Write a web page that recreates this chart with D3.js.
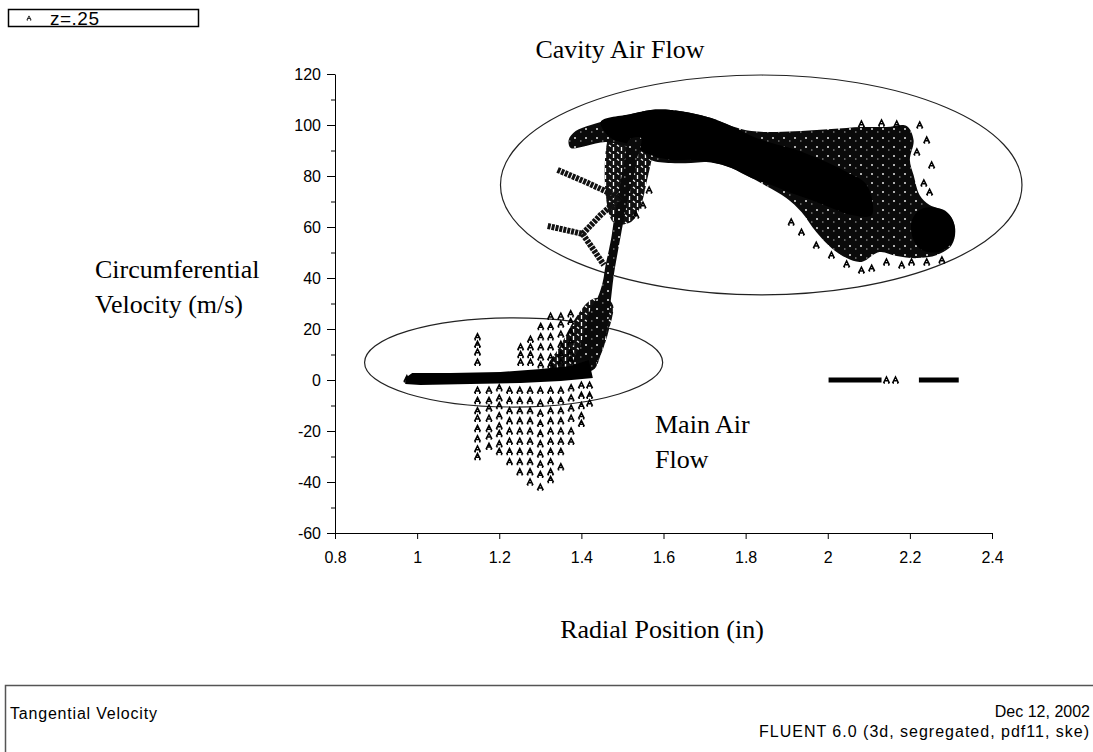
<!DOCTYPE html>
<meta charset="utf-8">
<script src="https://cdn.jsdelivr.net/npm/d3@7"></script>
<style>
  body { margin: 0; background: #fff; }
  .tick text { font-family: "Liberation Sans", Arial, sans-serif; font-size: 16px; }
  .serif { font-family: "Liberation Serif", "Times New Roman", serif; font-size: 26px; fill: #000; }
  .foot { font-family: "Liberation Sans", Arial, sans-serif; font-size: 16px; fill: #000; }
</style>
<div id="chart"></div>
<script>
// axis ticks
var xTicks = [0.8, 1, 1.2, 1.4, 1.6, 1.8, 2, 2.2, 2.4];
var yTicks = [-60, -40, -20, 0, 20, 40, 60, 80, 100, 120];
var yMinor = [-50, -30, -10, 10, 30, 50, 70, 90, 110];

// dense part of the main flow near v = 0 (radial position, velocity)
var bandPoly = [[0.971,0.8],[0.988,2.7],[1.081,2.7],[1.203,3.1],[1.301,4.3],[1.374,5.5],[1.418,7.8],
  [1.428,0.8],[1.350,-0.4],[1.252,-1.2],[1.130,-1.6],[1.008,-2.0],[0.971,-1.6]];

// cluster where the flow starts to rise
var riserPoly = [[1.320,4.7],[1.350,13.7],[1.386,24.3],[1.423,31.4],[1.459,32.2],[1.477,29.4],
  [1.467,19.6],[1.447,9.8],[1.428,3.9]];

// steep rise between the two flows
var trunkPoly = [[1.379,5.5],[1.398,13.7],[1.411,21.6],[1.423,28.2],[1.440,32.5],[1.452,38.4],[1.459,45.1],
  [1.467,51.0],[1.474,56.9],[1.481,64.7],[1.489,71.4],[1.496,78.4],[1.506,86.3],[1.516,94.1],
  [1.545,94.9],[1.535,86.3],[1.525,78.4],[1.513,70.6],[1.503,62.7],[1.494,54.9],[1.486,47.8],
  [1.479,41.2],[1.474,34.5],[1.469,27.5],[1.462,19.6],[1.452,12.5],[1.438,7.1],[1.428,3.9]];

// hatched region right of the trunk
var hatchPoly = [[1.477,99.2],[1.569,100.0],[1.574,90.2],[1.560,78.4],[1.545,68.6],[1.521,62.0],[1.477,62.0]];

// cavity flow: outer (speckled) and core (solid)
var cavityOuter = [[1.369,94.1],[1.386,97.6],[1.423,100.0],[1.472,102.4],[1.521,104.3],[1.569,105.9],
  [1.618,105.9],[1.667,104.7],[1.716,102.7],[1.765,99.6],[1.814,97.6],[1.875,97.3],[1.936,97.6],
  [2.009,98.4],[2.082,99.2],[2.143,99.2],[2.192,99.6],[2.209,94.1],[2.200,86.3],[2.209,80.4],
  [2.224,72.5],[2.248,68.6],[2.290,65.9],[2.310,59.6],[2.302,52.9],[2.266,49.0],[2.217,47.8],
  [2.168,48.6],[2.126,50.2],[2.082,46.3],[2.046,47.8],[2.009,51.8],[1.972,58.0],[1.936,65.9],
  [1.899,71.4],[1.850,76.1],[1.801,80.4],[1.753,83.9],[1.704,85.5],[1.667,85.1],[1.618,85.1],
  [1.569,86.3],[1.545,90.2],[1.508,91.8],[1.459,93.3],[1.411,91.8],[1.374,91.0]];

var cavityCore = [[1.447,101.2],[1.521,104.3],[1.569,105.9],[1.618,105.9],[1.667,104.7],[1.716,102.7],
  [1.765,99.6],[1.814,95.7],[1.863,92.9],[1.924,90.2],[1.985,86.3],[2.046,81.6],[2.095,76.5],
  [2.107,64.7],[2.058,64.7],[2.009,67.5],[1.960,70.6],[1.911,73.3],[1.863,76.5],[1.814,79.2],
  [1.765,83.1],[1.716,85.5],[1.667,86.3],[1.618,86.3],[1.569,88.2],[1.521,92.2],[1.472,94.9]];

var blobPoly = [[2.224,66.7],[2.266,67.5],[2.297,64.7],[2.310,59.6],[2.302,53.7],[2.270,50.2],
  [2.229,51.0],[2.209,54.9],[2.204,62.0]];

// streak lines branching off the trunk
var branchB = [[1.342,82.4],[1.411,77.6],[1.489,71.8]];
var branchC = [[1.318,60.4],[1.362,58.8],[1.403,57.3],[1.447,64.7],[1.496,71.8]];
var branchD = [[1.403,57.3],[1.430,51.0],[1.455,45.1]];

// columns of single markers below the band
var lowColR = [1.147, 1.175, 1.200, 1.225, 1.250, 1.275, 1.300, 1.325, 1.350, 1.375, 1.400, 1.420];
var lowColV = [
  [17,14,11,7,-4,-8,-12,-15,-19,-23,-27,-30],
  [-4,-8,-11,-15,-19,-22,-26],
  [-3,-7,-10,-14,-18,-21,-25,-28],
  [-4,-8,-12,-16,-20,-24,-28,-32],
  [-4,-8,-12,-16,-20,-24,-28,-32,-36],
  [-4,-8,-12,-16,-20,-24,-28,-32,-36,-40],
  [-4,-9,-13,-17,-21,-25,-29,-33,-37,-42],
  [-4,-8,-12,-16,-20,-24,-28,-32,-36,-39],
  [-4,-8,-12,-16,-20,-24,-28,-34],
  [-3,-7,-11,-15,-20,-24],
  [-2,-6,-10,-14,-17],
  [-2,-6,-9]
];

// columns of markers above the band
var upColR = [1.252, 1.276, 1.301, 1.325, 1.350, 1.374];
var upColV = [[7,10,13],[7,10,13,16],[6,9,13,17,21],[6,9,13,17,21,25],[7,10,14,18,22,25],[8,11,15,19,23,26]];

// scattered single markers
var scatterPts = [[2.224,100],[2.241,94.1],[2.217,89.4],[2.253,84.3],[2.234,77.3],[2.248,73.7],
  [2.107,43.9],[2.143,46.3],[2.180,45.1],[2.204,46.3],[2.082,43.1],[2.046,45.5],[2.009,49.0],
  [1.972,52.9],[1.936,58.0],[1.911,62.0],[2.278,47.1],[2.241,46.3],
  [1.565,74.5],[1.550,68.6],[1.533,64.7],[2.131,100.8],[2.168,100.4],[2.082,100.4],
  [2.143,0],[2.165,0],[0.975,0.5]];

// solid runs of markers on v = 0
var zeroRuns = [[2.002,2.131],[2.222,2.319]];

// annotation ellipses: [r, v] centres and [dr, dv] radii
var ellCentre = [[1.838,76.5],[1.235,6.9]];
var ellRadius = [[0.635,43.1],[0.363,17.5]];

var W = 1093, H = 752;
var svg = d3.select("#chart").append("svg").attr("width", W).attr("height", H);

// textures for the crowded marker areas
var defs = svg.append("defs");
var speck = defs.append("pattern").attr("id", "speck")
    .attr("patternUnits", "userSpaceOnUse").attr("width", 11).attr("height", 9);
speck.append("rect").attr("width", 11).attr("height", 9).attr("fill", "#0a0a0a");
speck.append("path").attr("d", "M2,2l2,2M4,2l-2,2M8,6h1.5")
    .attr("stroke", "#fff").attr("stroke-width", 0.8).attr("opacity", 0.85);
var hatch = defs.append("pattern").attr("id", "hatch")
    .attr("patternUnits", "userSpaceOnUse").attr("width", 8).attr("height", 7);
hatch.append("rect").attr("width", 8).attr("height", 7).attr("fill", "#111");
hatch.append("path").attr("d", "M5.5,0v4M1,5l2,1.5")
    .attr("stroke", "#fff").attr("stroke-width", 1.3);

var x = d3.scaleLinear().domain([0.8, 2.4]).range([335, 992]);
var y = d3.scaleLinear().domain([-60, 120]).range([533, 74]);

// axes
svg.append("g").attr("transform", "translate(335,0)")
    .call(d3.axisLeft(y).tickValues(yTicks).tickSize(8).tickPadding(6).tickSizeOuter(0)
      .tickFormat(function(d) { return String(d); }))
    .call(function(g) { g.selectAll("path,line").attr("stroke", "#000"); });
svg.append("g").attr("transform", "translate(335,0)")
    .call(d3.axisLeft(y).tickValues(yMinor).tickSize(4).tickFormat("").tickSizeOuter(0))
    .call(function(g) { g.select(".domain").remove(); });
svg.append("g").attr("transform", "translate(0,533)")
    .call(d3.axisBottom(x).tickValues(xTicks).tickSize(6).tickPadding(13).tickSizeOuter(0)
      .tickFormat(function(d) { return d === 1 || d === 2 ? d : d3.format(".1f")(d); }))
    .call(function(g) { g.selectAll("path,line").attr("stroke", "#000"); });

// ellipses
svg.selectAll("ellipse").data(ellCentre).enter().append("ellipse")
    .attr("cx", function(d) { return x(d[0]); })
    .attr("cy", function(d) { return y(d[1]); })
    .attr("rx", function(d, i) { return x(0.8 + ellRadius[i][0]) - x(0.8); })
    .attr("ry", function(d, i) { return y(0) - y(ellRadius[i][1]); })
    .attr("fill", "none").attr("stroke", "#222").attr("stroke-width", 1.2);

var poly = d3.line().x(function(d) { return x(d[0]); }).y(function(d) { return y(d[1]); })
    .curve(d3.curveCatmullRomClosed);
var path = d3.line().x(function(d) { return x(d[0]); }).y(function(d) { return y(d[1]); });

svg.append("path").attr("d", poly(hatchPoly)).attr("fill", "url(#hatch)");
svg.append("path").attr("d", poly(cavityOuter)).attr("fill", "url(#speck)");
svg.append("path").attr("d", poly(cavityCore)).attr("fill", "#000");
svg.append("path").attr("d", poly(blobPoly)).attr("fill", "#000");
svg.append("path").attr("d", poly(riserPoly)).attr("fill", "url(#hatch)");
svg.append("path").attr("d", poly(trunkPoly)).attr("fill", "url(#speck)");
svg.append("path").attr("d", path(bandPoly) + "Z").attr("fill", "#000");

[branchB, branchC, branchD].forEach(function(b) {
  svg.append("path").attr("d", path(b)).attr("fill", "none")
     .attr("stroke", "#111").attr("stroke-width", 6).attr("stroke-dasharray", "3,1");
});

svg.selectAll(".zrun").data(zeroRuns).enter().append("line")
    .attr("x1", function(d) { return x(d[0]); }).attr("x2", function(d) { return x(d[1]); })
    .attr("y1", y(0)).attr("y2", y(0))
    .attr("stroke", "#000").attr("stroke-width", 5);

// single markers
var pts = [];
lowColR.forEach(function(r, i) { lowColV[i].forEach(function(v) { pts.push([r, v]); }); });
upColR.forEach(function(r, i) { upColV[i].forEach(function(v) { pts.push([r, v]); }); });
scatterPts.forEach(function(p) { pts.push(p); });

var glyph = "M-3,3L0,-3L3,3M-2,0.8H2M-3,3H-1.5M1.5,3H3";
svg.append("g").selectAll("path").data(pts).enter().append("path")
    .attr("transform", function(d) { return "translate(" + x(d[0]) + "," + y(d[1]) + ")"; })
    .attr("d", glyph).attr("fill", "none").attr("stroke", "#000").attr("stroke-width", 1.5);

// texts
svg.append("text").attr("class", "serif").attr("x", 620).attr("y", 58)
    .attr("text-anchor", "middle").text("Cavity Air Flow");
svg.append("text").attr("class", "serif").attr("x", 95).attr("y", 278).text("Circumferential");
svg.append("text").attr("class", "serif").attr("x", 95).attr("y", 313).text("Velocity (m/s)");
svg.append("text").attr("class", "serif").attr("x", 655).attr("y", 433).text("Main Air");
svg.append("text").attr("class", "serif").attr("x", 655).attr("y", 468).text("Flow");
svg.append("text").attr("class", "serif").attr("x", 662).attr("y", 638)
    .attr("text-anchor", "middle").text("Radial Position (in)");

// legend box
svg.append("rect").attr("x", 8.5).attr("y", 9.5).attr("width", 190).attr("height", 17)
    .attr("fill", "#fff").attr("stroke", "#000").attr("stroke-width", 1.5);
svg.append("path").attr("transform", "translate(29,18) scale(0.7)").attr("d", glyph)
    .attr("fill", "none").attr("stroke", "#000").attr("stroke-width", 1.2);
svg.append("text").attr("class", "foot").attr("x", 50).attr("y", 25)
    .style("font-size", "19px").style("letter-spacing", "0.5px").text("z=.25");

// footer box
svg.append("path").attr("d", "M5.5,752V685.5H1093").attr("fill", "none")
    .attr("stroke", "#555").attr("stroke-width", 1.5);
svg.append("text").attr("class", "foot").attr("x", 10).attr("y", 719)
    .style("letter-spacing", "0.8px").text("Tangential Velocity");
svg.append("text").attr("class", "foot").attr("x", 1090).attr("y", 717)
    .attr("text-anchor", "end").text("Dec 12, 2002");
svg.append("text").attr("class", "foot").attr("x", 1090).attr("y", 737)
    .attr("text-anchor", "end").style("letter-spacing", "1px")
    .text("FLUENT 6.0 (3d, segregated, pdf11, ske)");
</script>
